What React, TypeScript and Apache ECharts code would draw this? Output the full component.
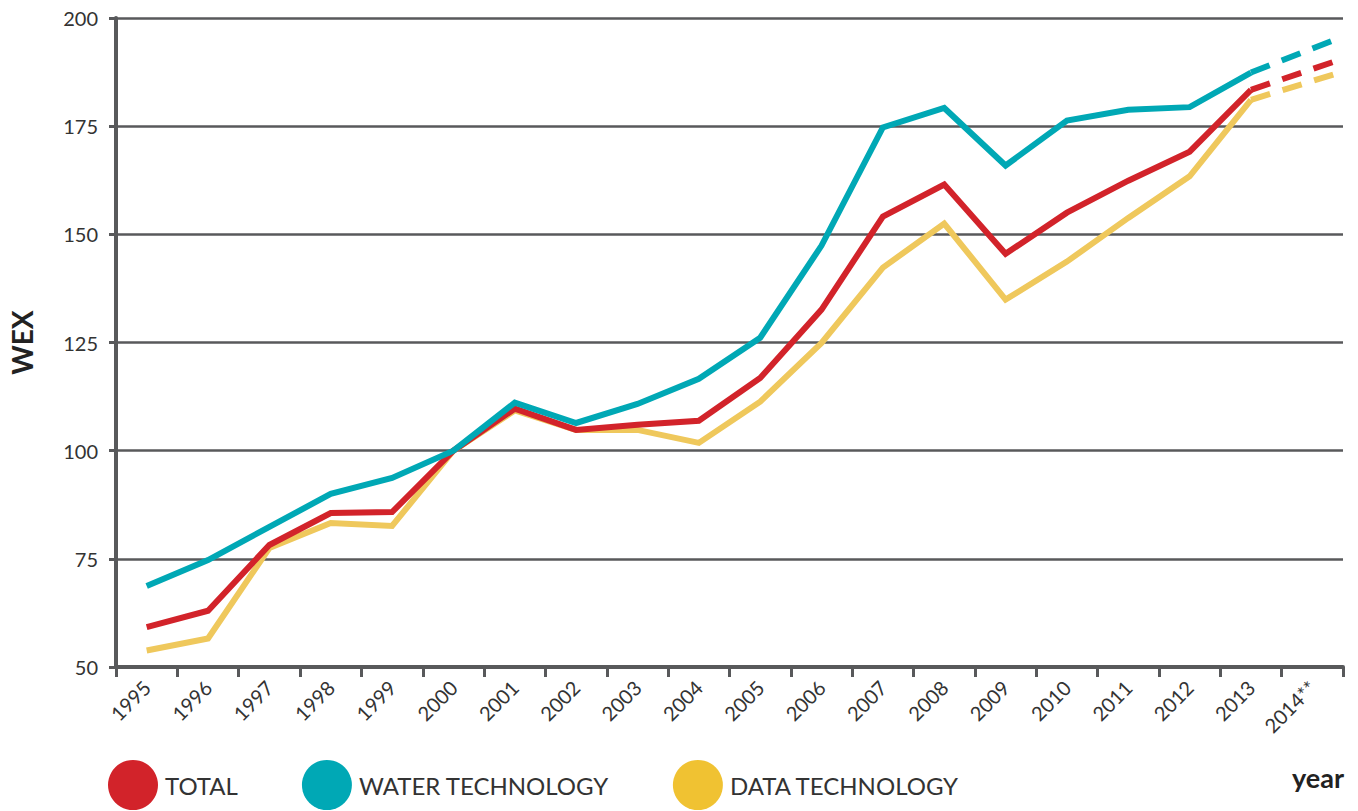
import React, { useEffect, useRef } from "react";
import * as echarts from "echarts";

const years = ["1995", "1996", "1997", "1998", "1999", "2000", "2001", "2002", "2003", "2004", "2005", "2006", "2007", "2008", "2009", "2010", "2011", "2012", "2013", "2014**"];
const total = [59.2, 63.0, 78.2, 85.6, 85.8, 100, 109.7, 104.8, 106.0, 106.9, 116.8, 132.6, 154.1, 161.5, 145.5, 155.0, 162.4, 169.1, 183.4, null];
const water = [68.7, 74.7, 82.4, 90.0, 93.7, 100, 111.1, 106.4, 110.8, 116.6, 126.1, 147.4, 174.7, 179.2, 165.9, 176.3, 178.8, 179.4, 187.4, null];
const dataTech = [53.8, 56.6, 77.5, 83.3, 82.6, 100, 109.3, 104.8, 104.8, 101.8, 111.3, 124.9, 142.3, 152.5, 134.9, 143.7, 153.8, 163.4, 181.1, null];
// forecast end values (end of 2014)
const forecastTotal = 190.6;
const forecastWater = 195.7;
const forecastData = 187.6;
const yTicks = [50, 75, 100, 125, 150, 175, 200];

const RED = "#d2232a";
const CYAN = "#00a8b5";
const YELLOW_LINE = "#efc85c";
const YELLOW_DOT = "#f0c232";
const GRAY = "#58595b";
const FONT = "Lato";

export default function App() {
  const ref = useRef<HTMLDivElement>(null);
  useEffect(() => {
    if (!ref.current) return;
    const chart = echarts.init(ref.current, null, { renderer: "svg" });
    const n = years.length;
    const lastIdx = n - 2; // 2013
    const fc = (v2013: number, v2014: number) => [
      [lastIdx + 0.5, v2013],
      [n, v2014],
    ];
    const lineBase = (name: string, color: string, data: any, z: number) => ({
      name,
      type: "line",
      data,
      symbol: "none",
      color,
      z,
      lineStyle: { color, width: 6, cap: "butt", join: "miter" },
    });
    chart.setOption({
      animation: false,
      backgroundColor: "#ffffff",
      textStyle: { fontFamily: FONT },
      grid: { left: 114, right: 15, top: 18, bottom: 144, containLabel: false },
      title: {
        text: "year",
        right: 14,
        top: 764,
        padding: 0,
        textStyle: { fontFamily: FONT, fontSize: 27, fontWeight: "bold", color: "#222" },
      },
      legend: {
        left: 108,
        top: 760,
        padding: 0,
        icon: "circle",
        itemWidth: 50,
        itemHeight: 50,
        itemGap: 64,
        textStyle: { fontFamily: FONT, fontSize: 24, color: "#333", padding: [0, 0, 0, 2] },
        data: [
          { name: "TOTAL", itemStyle: { color: RED } },
          { name: "WATER TECHNOLOGY", itemStyle: { color: CYAN } },
          { name: "DATA TECHNOLOGY", itemStyle: { color: YELLOW_DOT } },
        ],
      },
      xAxis: [
        {
          type: "category",
          data: years,
          boundaryGap: true,
          axisLine: { show: true, lineStyle: { color: GRAY, width: 4 } },
          axisTick: { show: true, interval: 0, length: 10, lineStyle: { color: GRAY, width: 3 } },
          axisLabel: {
            interval: 0,
            rotate: 45,
            margin: 17,
            fontFamily: FONT,
            fontSize: 20,
            color: "#333",
          },
          splitLine: { show: false },
        },
        {
          type: "value",
          min: 0,
          max: n,
          show: false,
          splitLine: { show: false },
        },
      ],
      yAxis: {
        type: "value",
        min: 50,
        max: 200,
        interval: 25,
        name: "WEX",
        nameLocation: "middle",
        nameGap: 80,
        nameRotate: 90,
        nameTextStyle: { fontFamily: FONT, fontSize: 28, fontWeight: "bold", color: "#222" },
        axisLine: { show: true, lineStyle: { color: GRAY, width: 4 } },
        axisTick: { show: true, length: 7, lineStyle: { color: GRAY, width: 3 } },
        axisLabel: {
          margin: 18,
          fontFamily: FONT,
          fontSize: 20,
          color: "#333",
          formatter: (v: number) => (yTicks.includes(v) ? String(v) : ""),
        },
        splitLine: { show: true, lineStyle: { color: GRAY, width: 2.5 } },
      },
      series: [
        lineBase("DATA TECHNOLOGY", YELLOW_LINE, dataTech, 2),
        lineBase("TOTAL", RED, total, 3),
        lineBase("WATER TECHNOLOGY", CYAN, water, 4),
        {
          ...lineBase("DATA TECHNOLOGY forecast", YELLOW_LINE, fc(dataTech[lastIdx] as number, forecastData), 2),
          xAxisIndex: 1,
          lineStyle: { color: YELLOW_LINE, width: 6, type: [20, 13], cap: "butt" },
        },
        {
          ...lineBase("TOTAL forecast", RED, fc(total[lastIdx] as number, forecastTotal), 3),
          xAxisIndex: 1,
          lineStyle: { color: RED, width: 6, type: [20, 13], cap: "butt" },
        },
        {
          ...lineBase("WATER TECHNOLOGY forecast", CYAN, fc(water[lastIdx] as number, forecastWater), 4),
          xAxisIndex: 1,
          lineStyle: { color: CYAN, width: 6, type: [20, 13], cap: "butt" },
        },
      ],
    });
    return () => chart.dispose();
  }, []);
  return (
    <div
      ref={ref}
      style={{ position: "fixed", left: 0, top: 0, width: 1358, height: 811 }}
    />
  );
}
